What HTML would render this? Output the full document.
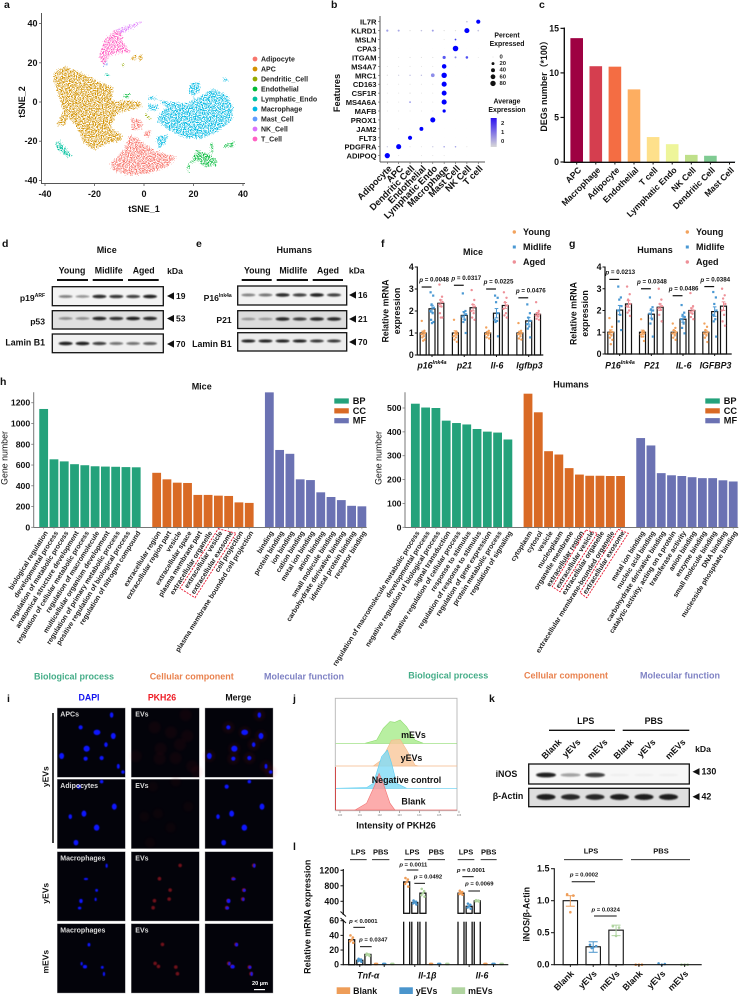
<!DOCTYPE html>
<html lang="en">
<head>
<meta charset="utf-8">
<title>Multi-panel figure: adipose tissue single-cell, senescence and extracellular vesicle analysis</title>
<style>
html,body{margin:0;padding:0;background:#fff;width:743px;height:996px;overflow:hidden}
svg{display:block;font-family:"Liberation Sans","Noto Sans CJK SC",sans-serif}
.letter{font-size:10.5px;font-weight:bold;fill:#111;dominant-baseline:central}
.title{font-size:9px;font-weight:bold;fill:#111;text-anchor:middle;dominant-baseline:central}
</style>
</head>
<body>
<svg id="figure" xmlns="http://www.w3.org/2000/svg" width="743" height="996" viewBox="0 0 743 996">
<defs>
<filter id="speckle" x="-8%" y="-8%" width="116%" height="116%" color-interpolation-filters="sRGB">
<feTurbulence type="fractalNoise" baseFrequency="0.85" numOctaves="2" seed="4" result="n"/>
<feDisplacementMap in="SourceGraphic" in2="n" scale="6" xChannelSelector="R" yChannelSelector="G" result="d"/>
<feColorMatrix in="n" type="matrix" values="0 0 0 0 0  0 0 0 0 0  0 0 0 0 0  0 0 0 7 -3.1" result="m"/>
<feComposite in="d" in2="m" operator="in"/>
</filter>
<filter id="blur1" x="-30%" y="-100%" width="160%" height="300%"><feGaussianBlur stdDeviation="0.7"/></filter>
<filter id="blur2" x="-50%" y="-50%" width="200%" height="200%"><feGaussianBlur stdDeviation="0.5"/></filter>
<filter id="blur3" x="-100%" y="-100%" width="300%" height="300%"><feGaussianBlur stdDeviation="1.4"/></filter>
<linearGradient id="exprGradient" x1="0" y1="1" x2="0" y2="0"><stop offset="0" stop-color="#d8d8d8"/><stop offset="1" stop-color="#2a10f0"/></linearGradient>
</defs>
<rect width="743" height="996" fill="#fff"/>

<text class="letter" x="4" y="5">a</text>
<text class="letter" x="331" y="5">b</text>
<text class="letter" x="539" y="5">c</text>
<text class="letter" x="2" y="244">d</text>
<text class="letter" x="196" y="244">e</text>
<text class="letter" x="381" y="244">f</text>
<text class="letter" x="569" y="244">g</text>
<text class="letter" x="0" y="382">h</text>
<text class="letter" x="7" y="699">i</text>
<text class="letter" x="293" y="699">j</text>
<text class="letter" x="489" y="699">k</text>
<text class="letter" x="293" y="847">l</text>

<text class="title" x="106.7" y="250">Mice</text>
<text class="title" x="294.3" y="250">Humans</text>
<text class="title" x="473" y="252">Mice</text>
<text class="title" x="655" y="250">Humans</text>
<text class="title" x="201.7" y="386.5">Mice</text>
<text class="title" x="571" y="384.5">Humans</text>

<g font-size="9" font-weight="bold" text-anchor="middle" dominant-baseline="central">
<text x="74" y="676.7" fill="#45ad88">Biological process</text>
<text x="191.7" y="676.7" fill="#e9824f">Cellular component</text>
<text x="304" y="676.7" fill="#7f82c4">Molecular function</text>
<text x="448.3" y="675.7" fill="#45ad88">Biological process</text>
<text x="566" y="675.7" fill="#e9824f">Cellular component</text>
<text x="680" y="675.7" fill="#7f82c4">Molecular function</text>
</g>

<g id="layer"></g>
</svg>

<script>
/* ---------- panel a data (tSNE coordinates of each cluster outline) ---------- */
const tsneCellTypes = ['Adipocyte','APC','Dendritic_Cell','Endothelial','Lymphatic_Endo','Macrophage','Mast_Cell','NK_Cell','T_Cell'];
const tsneColors = ['#F8766D','#D39200','#93AA00','#00BA38','#00C19F','#00B9E3','#619CFF','#DB72FB','#FF61C3'];
const tsneTicks = [-40,-20,0,20,40];
const tsneOutlines = [
 [[[-5.4,-17],[-1.6,-19.6],[3.8,-24.7],[13.2,-28.1],[9.2,-33.2],[1.1,-36.6],[-5.7,-37.4],[-12.4,-34.9],[-13.7,-31.5],[-8.3,-24.7]],
  [[-5,-8],[-.9,-9.4],[-.9,-13.6],[-5,-14.5]],[[1.1,-14.5],[3.1,-14.5],[1.8,-18.2],[-.3,-17]]],
 [[[-36,15.3],[-31.9,18.2],[-25.9,15.3],[-17.8,10.2],[-12.4,7.3],[-13.1,2.6],[-11.7,0],[-9,.9],[-1.6,0],[-.9,-2.6],[-6.3,-4.3],[-11,-6],[-13.7,-12.8],[-9,-17],[-9,-19.6],[-15.1,-21.3],[-20.5,-24.7],[-24.5,-20.4],[-27.2,-12.8],[-30.6,-7.7],[-31.9,-11.9],[-35.3,-11.9],[-33.3,-6.8],[-32.6,-4.3],[-36.6,11]],
  [[-5,23],[-3,24],[-3,22],[-5,21]],[[-1.8,24],[-.4,24],[-1,21],[-2,21]]],
 [[[-9.2,20],[-8,20],[-8.4,18],[-9,18]],[[1,-6],[3,-8.5],[2.5,-9.5],[.6,-7]]],
 [[[21.3,-24.7],[26,-26.7],[29.4,-29.8],[29.4,-32.3],[24.6,-33.2],[21.3,-29.8],[18.6,-31.5],[17.9,-36.6],[17.2,-33.2],[19.3,-29.8]],
  [[32,-22],[36.8,-20],[36,-23],[32.7,-23.3]],[[27,-21],[28,-21],[28,-26],[27,-26]],[[-8,4],[-5.6,4.4],[-6.4,2],[-8,2.4]]],
 [[[-36,-20.4],[-34.2,-19.9],[-29.2,-27.2],[-30.6,-28.4],[-35.3,-23.8]],[[-15.5,15],[-14,14],[-14.5,13],[-16,14]]],
 [[[5.8,.9],[11.9,0],[17.2,-.9],[22.6,2.6],[28,6.8],[33.4,3.4],[36.1,-2.6],[35.4,-9.4],[29.4,-15.3],[22.6,-18.7],[15.9,-17.9],[9.2,-13.6],[5.1,-9.4],[6.5,-6],[9.2,-2.6]],
  [[18.6,9.4],[22.6,10.2],[22.6,5.9],[19.9,2.6],[17.9,5.1]],[[1.8,-.9],[5.8,-1.7],[5.1,-4.3],[1.8,-4.3]],[[5.1,-17.9],[9.8,-16.2],[8.5,-21.3],[5.8,-23.8]],[[32,12],[34,12],[34,10.5],[32,10.5]],[[2,3],[5,2.4],[5,1],[2,1.6]]],
 [[[-16,19.6],[-14.6,21],[-15,19],[-16.4,18]]],
 [[[-11.7,36.9],[-6.3,39.1],[0,41.3],[-4.3,37.9],[-9,34.9]]],
 [[[-11.7,36.9],[-9,34.9],[-8.6,30.6],[-5.3,25.5],[-10.4,25],[-13.7,23.8],[-16.4,18.4],[-18,23],[-16.2,31.5]]]
];

/* ---------- panel b data ---------- */
const dotFeatures = ['IL7R','KLRD1','MSLN','CPA3','ITGAM','MS4A7','MRC1','CD163','CSF1R','MS4A6A','MAFB','PROX1','JAM2','FLT3','PDGFRA','ADIPOQ'];
const dotCellTypes = ['Adipocyte','APC','Dendritic Cell','Endothelial','Lymphatic Endo','Macrophage','Mast Cell','NK Cell','T cell'];
const dotPercent = [
 [0,0,0,0,0,0,0,5,45],[10,8,2,4,8,2,2,70,5],[0,0,0,0,0,1,6,0,0],[0,0,0,0,0,0,85,0,0],
 [0,1,2,2,2,25,8,15,1],[1,1,1,1,1,55,0,0,0],[2,2,3,3,35,80,0,0,0],[1,1,1,1,1,70,0,0,0],
 [1,1,2,1,1,65,0,0,0],[1,1,5,1,1,70,0,0,0],[1,1,1,1,1,25,0,0,0],[0,0,0,0,70,0,0,0,0],
 [0,1,0,40,0,0,0,0,0],[0,0,45,0,0,0,0,0,0],[2,70,1,1,2,4,4,1,0],[75,1,0,1,1,1,0,0,0]];
const dotExpression = [
 [0,0,0,0,0,0,0,.3,2.5],[.7,.6,0,.3,.7,0,0,2.5,.3],[0,0,0,0,0,0,1.8,0,0],[0,0,0,0,0,0,2.5,0,0],
 [0,0,0,0,0,1.5,.9,1.6,0],[0,0,0,0,0,2.5,0,0,0],[0,.2,.4,.4,.9,2.5,0,0,0],[0,0,0,0,0,2.5,0,0,0],
 [0,0,0,0,0,2.5,0,0,0],[0,0,.9,0,0,2.5,0,0,0],[0,0,0,0,0,2.5,0,0,0],[0,0,0,0,2.5,0,0,0,0],
 [0,0,0,2.5,0,0,0,0,0],[0,0,2.5,0,0,0,0,0,0],[.3,2.5,0,0,.3,.7,.7,0,0],[2.5,0,0,0,0,0,0,0,0]];
const dotSizeLegend = [0,20,40,60,80];
const dotColorTicks = [2,1,0];

/* ---------- panel c data ---------- */
const degCellTypes = ['APC','Macrophage','Adipocyte','Endothelial','T cell','Lymphatic Endo','NK Cell','Dendritic Cell','Mast Cell'];
const degValues = [13.9,10.75,10.7,8.15,2.8,2.0,0.8,0.7,0.02];
const degColors = ['#9E0142','#D53E4F','#F46D43','#FDAE61','#FEE08B','#EEF59A','#BFE08A','#7FCB92','#5E9FC0'];
const degTicks = [0,5,10,15];

/* ---------- panels d, e, k data (relative band densities) ---------- */
const blotLanesMice = {p19:[.55,.45,.95,.9,.85,1],p53:[.45,.45,.95,.9,1,.95],lamin:[1,1,.85,.6,.6,.7]};
const blotLanesHumans = {p16:[.55,.6,.95,.85,1,.85],p21:[.4,.4,.95,.85,.95,.95],lamin:[1,1,1,1,.9,.9]};
const blotLanesEvs = {inos:[1,.4,.85,.02,.02,.02],actin:[1,.95,.95,1,1,1]};
const ageGroups = ['Young','Midlife','Aged'];

/* ---------- panel f data ---------- */
const fGenes = ['p16<tspan dy="-2.5" font-size="5.5">Ink4a</tspan>','p21','Il-6','Igfbp3'];
const fMeans = [[1,2.1,2.35],[1,1.8,2.15],[1,1.9,2.25],[1,1.55,1.85]];
const fPoints = [
 [[1.55,1.1,1.05,1,.95,.85,.8,.7,.65],[2.85,2.7,2.3,2.15,2,1.9,1.6,1.5,1.45],[3.2,2.65,2.5,2.4,2.3,2.2,1.9,1.7,1.7]],
 [[1.6,1.05,1,.95,.85,.8,.7,.6],[2.8,2,1.95,1.85,1.75,1.6,1.5,1],[2.95,2.5,2.3,2.2,2,1.9,1.7,1.6]],
 [[1.25,1.1,1.05,1,.95,.9,.8,.75],[2.7,2.6,2.4,1.9,1.6,1.55,1.5,.85],[2.85,2.6,2.4,2.25,2.1,1.9,1.8,1.7]],
 [[1.45,1.1,1.05,1,.95,.85,.75,.7],[2.3,1.9,1.7,1.55,1.4,1.3,1.2,.8],[2.4,2,1.9,1.85,1.8,1.75,1.65,1.6]]];
const fPValues = ['= 0.0048','= 0.0317','= 0.0225','= 0.0476'];
const fBracketLevels = [3.09,3.17,3,2.6];

/* ---------- panel g data ---------- */
const gGenes = ['P16<tspan dy="-2.5" font-size="5.5">Ink4a</tspan>','P21','IL-6','IGFBP3'];
const gMeans = [[1,2.02,2.3],[1,1.83,2.15],[1,1.6,2],[1,1.95,2.2]];
const gPoints = [
 [[1.65,1.25,1.05,1,.95,.85,.75,.65,.45],[3.1,2.6,2.5,2.2,2,1.8,1.5,1.1],[3.1,2.75,2.5,2.3,2.2,2,1.9,1.75]],
 [[1.6,1.05,1,.95,.9,.8,.8,.6],[2.6,2.15,2.05,2,1.85,1.6,1.4,.8],[3,2.5,2.3,2.2,2.1,2.05,1.8,1.5]],
 [[1.4,1.2,1.1,1,.95,.85,.75,.65],[2.25,1.9,1.8,1.7,1.6,1.4,1.2,.95],[2.8,2.2,2.1,2,1.95,1.85,1.7,1.6]],
 [[1.4,1.25,1.1,1,.95,.85,.75,.55],[2.85,2.6,2.3,2,1.8,1.6,1.5,.8],[3,2.7,2.55,2.3,2,1.8,1.5,1.3]]];
const gPValues = ['= 0.0213','= 0.0348','= 0.0486','= 0.0384'];
const gBracketLevels = [3.43,3,2.68,3.1];
const qpcrTicks = [0,1,2,3,4];

/* ---------- panel h data ---------- */
const miceBP = [1140,655,635,608,598,588,585,583,580,578];
const miceCC = [525,462,430,427,312,312,305,302,240,235];
const miceMF = [1300,745,708,462,455,337,292,262,207,202];
const miceBPTerms = ['biological regulation','developmental process','regulation of metabolic process','anatomical structure development','regulation of cellular metabolic process','regulation of macromolecule','multicellular organism development','regulation of primary metabolic process','positive regulation of biological process','regulation of nitrogen compound'];
const miceCCTerms = ['extracellular region','extracellular region part','vesicle','extracellular space','plasma membrane part','extracellular organelle','extracellular vesicle','extracellular exosome','cell projection','plasma membrane bounded cell projection'];
const miceMFTerms = ['binding','protein binding','ion binding','cation binding','metal ion binding','anion binding','small molecule binding','carbohydrate derivative binding','identical protein binding','receptor binding'];
const miceTicks = [0,200,400,600,800,1000,1200];
const humanBP = [518,502,500,447,437,431,412,401,397,368];
const humanCC = [560,482,319,305,248,221,216,216,215,215];
const humanMF = [374,343,227,218,215,210,206,206,197,192];
const humanBPTerms = ['regulation of macromolecule metabolic process','developmental process','negative regulation of biological process','signal transduction','negative regulation of cellular process','response to stimulus','regulation of response to stimulus','regulation of gene expression','protein metabolic process','regulation of signaling'];
const humanCCTerms = ['cytoplasm','cytosol','vesicle','nucleoplasm','organelle membrane','extracellular region','extracellular vesicle','extracellular organelle','extracellular membrane-bounded organelle','extracellular exosome'];
const humanMFTerms = ['metal ion binding','nucleic acid binding','carbohydrate derivative binding','catalytic activity, acting on a protein','transferase activity','anion binding','enzyme binding','small molecule binding','DNA binding','nucleoside phosphate binding'];
const humanTicks = [0,100,200,300,400,500];
const goClasses = ['BP','CC','MF'];
const goColors = ['#24a27b','#d96a25','#6b72b3'];

/* ---------- panel j data: [log10 intensity, relative count] ---------- */
const flowSeries = ['mEVs','yEVs','Negative control','Blank'];
const flowHistograms = [
 [[1.26,0],[1.85,14],[2.18,64],[2.52,93],[2.77,90],[3.03,100],[3.36,71],[3.78,14],[4.2,0]],
 [[1.68,0],[2.1,26],[2.35,69],[2.6,111],[3.03,114],[3.36,69],[3.78,4],[3.95,0]],
 [[-.2,0],[1.34,3],[1.68,21],[2.1,136],[2.39,164],[2.6,107],[2.86,21],[3.36,0]],
 [[.76,0],[1.34,29],[1.76,107],[1.97,157],[2.18,114],[2.52,29],[2.77,0]]];
const flowColors = ['#a8ec8c','#f9c89c','#82dcf6','#fb9a9a'];
const flowStroke = ['#8fdc70','#f4b888','#5fcdf0','#f07070'];

/* ---------- panel l data ---------- */
const lGenes = ['Tnf-α','Il-1β','Il-6'];
const lMeans = [[34,6,14,1,1,1],[900,370,610,1,1,1],[610,270,410,1,1,1]];
const lPoints = [
 [[40,37,34,32,30],[8,7,6,5,4],[15,14,14,13,12],[1,1,1],[1,1,1],[1,1,1]],
 [[1000,960,900,850,780],[420,390,370,350,320],[720,660,610,560,520],[1,1,1],[1,1,1],[1,1,1]],
 [[670,640,610,590,570],[340,310,270,240,210],[430,420,410,400,395],[1,1,1],[1,1,1],[1,1,1]]];
const lConditions = ['Blank','yEVs','mEVs'];
const lColors = ['#ee9d58','#4a95cc','#b0d4a0'];
const lTicksLow = [0,20,40,60];
const lTicksHigh = [400,800,1200];

/* ---------- panel l right chart data ---------- */
const inosLabels = ['Blank','yEVs','mEVs','Blank','yEVs','mEVs'];
const inosMeans = [1,.28,.54,0,0,0];
const inosPoints = [[1.1,1.08,.82],[.31,.29,.27,.26],[.6,.58,.45],[0,0,0],[.02,.01,0],[0,0,0]];
const inosTicks = [0,.5,1,1.5];

/* ---------- panel i: nuclei observed per micrograph ---------- */
const iNucleiApc = [[163,21,5,8],[70,58,6,6],[119,73,10,8],[168,84,7,9],[146,110,5,7],[88,122,9,9],[13,144,7,9],[85,152,6,6],[133,150,6,6],[183,175,4,7],[197,192,5,5]];
const iNucleiAdipo = [[133,7,5,5],[65,22,6,6],[171,82,7,9],[39,112,5,7],[80,103,7,9],[118,145,8,9],[56,190,7,8]];
const iNucleiMacY = [[148,42,3,6],[86,82,6,3],[118,116,4,4],[71,148,5,6],[115,143,3,5],[67,169,5,4]];
const iNucleiMacM = [[95,63,4,5],[73,120,3,5],[83,129,6,5],[135,131,4,4],[140,151,3,6]];

/* ---------- drawing helpers ---------- */
const NS = 'http://www.w3.org/2000/svg';
const layer = document.getElementById('layer');
function mk(tag,parent,attrs){
  const el = document.createElementNS(NS,tag);
  for(const k in attrs) el.setAttribute(k,attrs[k]);
  parent.appendChild(el);
  return el;
}
function group(name){
  const el = mk('g',layer,{});
  
  
  return el;
}
function addText(p,name,x,y,str,size,o){
  o = o || {};
  const a = {x:x,y:y,'font-size':size,'font-weight':o.w||'bold','text-anchor':o.a||'middle',fill:o.c||'#111','dominant-baseline':'central'};
  if(o.i) a['font-style']='italic';
  if(o.r!==undefined) a.transform='rotate('+o.r+' '+x+' '+y+')';
  const el = mk('text',p,a);
  el.innerHTML = str;
  
  
  return el;
}
function addLine(p,name,x1,y1,x2,y2,c,w){
  const el = mk('line',p,{x1:x1,y1:y1,x2:x2,y2:y2,stroke:c||'#111','stroke-width':w||1});
  
  
  return el;
}
function addRect(p,name,x,y,w,h,fill,extra){
  const el = mk('rect',p,Object.assign({x:x,y:y,width:w,height:h,fill:fill},extra||{}));
  
  
  return el;
}
function addCircle(p,name,x,y,r,fill,extra){
  const el = mk('circle',p,Object.assign({cx:x,cy:y,r:r,fill:fill},extra||{}));
  
  
  return el;
}
function addEllipse(p,name,x,y,rx,ry,fill,extra){
  const el = mk('ellipse',p,Object.assign({cx:x,cy:y,rx:rx,ry:ry,fill:fill},extra||{}));
  
  
  return el;
}
function addPoly(p,name,pts,fill,extra){
  const el = mk('polygon',p,Object.assign({points:pts.map(q=>q[0].toFixed(1)+','+q[1].toFixed(1)).join(' '),fill:fill},extra||{}));
  
  
  return el;
}
function pText(p,name,x,y,str,size){
  return addText(p,name,x,y,'<tspan font-style="italic">p</tspan> '+str,size||6.2);
}
function triangle(p,name,x,y){
  return addPoly(p,name,[[x,y],[x+7,y-3.6],[x+7,y+3.6]],'#111');
}

/* ---------- panel a ---------- */
(function(){
  const g = group('tsne-plot');
  const X = v => 144 + 2.475*v, Y = v => 102 - 1.96*v;
  tsneOutlines.forEach((polys,i)=>{
    const cg = mk('g',g,{filter:'url(#speckle)'});
    
    
    polys.forEach(pl=>{
      addPoly(cg,'cluster-region',pl.map(q=>[X(q[0]),Y(q[1])]),tsneColors[i]);
    });
  });
  addLine(g,'tsne-y-axis',41.5,13,41.5,183.5,'#555',1);
  addLine(g,'tsne-x-axis',41,183.5,245,183.5,'#555',1);
  tsneTicks.forEach(t=>{
    addLine(g,'tsne-x-tick',X(t),183.5,X(t),186,'#555',.8);
    addText(g,'tsne-x-tick-label',X(t),194,String(t),9);
    addLine(g,'tsne-y-tick',39,Y(t),41.5,Y(t),'#555',.8);
    addText(g,'tsne-y-tick-label',37.5,Y(t),String(t),9,{a:'end'});
  });
  addText(g,'tsne-x-axis-title',144,209,'tSNE_1',9);
  addText(g,'tsne-y-axis-title',22,102,'tSNE_2',9,{r:-90});
  tsneCellTypes.forEach((c,i)=>{
    const y = 59 + i*10;
    addCircle(g,'tsne-legend-dot',255,y,2.4,tsneColors[i]);
    addText(g,'tsne-legend-label',261,y+1,c,7,{a:'start',c:'#222'});
  });
})();

/* ---------- panel b ---------- */
(function(){
  const g = group('dot-plot');
  const X = i => 387.3 + 11.37*i, Y = i => 21.7 + 8.93*i;
  const color = v => { const t=Math.min(1,v/2.5); return 'rgb('+Math.round(221*(1-t))+','+Math.round(221*(1-t))+','+Math.round(221+34*t)+')'; };
  const rad = p => .2 + Math.sqrt(p/80)*2.5;
  dotFeatures.forEach((f,r)=>{
    addText(g,'dot-plot-feature-label',376.5,Y(r)+.5,f,7.6,{a:'end'});
    addLine(g,'dot-plot-y-tick',378,Y(r),380,Y(r),'#555',.6);
    dotPercent[r].forEach((p,c)=>{
      addCircle(g,'expression-dot',X(c),Y(r),rad(p),p>0?color(dotExpression[r][c]):'#eeeeee');
    });
  });
  dotCellTypes.forEach((c,i)=>{
    addLine(g,'dot-plot-x-tick',X(i),162,X(i),164,'#555',.6);
    addText(g,'dot-plot-cell-label',X(i)+3,167,c,9.2,{a:'end',r:-45});
  });
  addLine(g,'dot-plot-y-axis',380,16,380,162,'#555',1);
  addLine(g,'dot-plot-x-axis',380,162,485,162,'#555',1);
  addText(g,'dot-plot-y-title',337,93,'Features',9.2,{r:-90});
  addText(g,'size-legend-title',507,36,'Percent',6.9);
  addText(g,'size-legend-title',507,44.5,'Expressed',6.9);
  dotSizeLegend.forEach((p,i)=>{
    const y = 57 + i*6.6;
    addCircle(g,'size-legend-dot',493,y,rad(p),'#111');
    addText(g,'size-legend-label',499.5,y+.5,String(p),5.9,{a:'start',c:'#222'});
  });
  addText(g,'color-legend-title',507,102,'Average',6.9);
  addText(g,'color-legend-title',507,110.5,'Expression',6.9);
  addRect(g,'expression-colorbar',490.7,118,6,29,'url(#exprGradient)');
  dotColorTicks.forEach(t=>{
    addText(g,'color-legend-label',501,142-9*t,String(t),5.9,{a:'start',c:'#222'});
  });
})();

/* ---------- panel c ---------- */
(function(){
  const g = group('deg-bar-chart');
  const Y = v => 162 - 8.91*v, X = i => 576.7 + 19.1*i;
  degValues.forEach((v,i)=>{
    addRect(g,'deg-bar',X(i)-6.3,Y(v),12.6,162-Y(v),degColors[i]);
    addText(g,'deg-cell-label',X(i)+3,168.5,degCellTypes[i],8.6,{a:'end',r:-45});
    addLine(g,'deg-x-tick',X(i),162,X(i),164.5,'#111',1);
  });
  addLine(g,'deg-y-axis',564.3,27.5,564.3,163,'#111',1.4);
  addLine(g,'deg-x-axis',563.6,162.3,735,162.3,'#111',1.4);
  degTicks.forEach(t=>{
    addLine(g,'deg-y-tick',560.5,Y(t),564,Y(t),'#111',1.2);
    addText(g,'deg-y-tick-label',559,Y(t),String(t),8.8,{a:'end'});
  });
  addText(g,'deg-y-title',544,84,'DEGs number（*100）',8.9,{r:-90});
})();

/* ---------- blots ---------- */
function blotBox(g,name,x,y,w,h,bg){
  addRect(g,name,x,y,w,h,bg,{stroke:'#111','stroke-width':1.3});
}
function blotBands(g,values,xFn,y,bw,bh){
  values.forEach((d,i)=>{
    addEllipse(g,'protein-band',xFn(i),y,bw/2,bh/2*(.6+.5*d),'#0a0a0a',{opacity:Math.max(.03,d*.92),filter:'url(#blur1)'});
  });
}
(function(){
  const g = group('western-blot-mice');
  const xs = [72,108.7,143.7], bars=[[57,88],[92.7,123],[128,158.7]];
  ageGroups.forEach((a,i)=>{
    addText(g,'age-group-label',xs[i],270.7,a,8.8);
    addLine(g,'age-group-bar',bars[i][0],280,bars[i][1],280,'#111',2);
  });
  addText(g,'kda-header',175,271,'kDa',8.6);
  const bx = i => (197+50.6*i)/3;
  blotBox(g,'blot-p19',52.3,286.7,111,19,'#f3f3f3');
  blotBands(g,blotLanesMice.p19,bx,296.5,14,3.2);
  blotBox(g,'blot-p53',52.3,310.7,111,18.3,'#e0e0e0');
  blotBands(g,blotLanesMice.p53,bx,318.5,14,3.2);
  blotBox(g,'blot-lamin-b1',52.3,334,111,18.7,'#f0f0f0');
  blotBands(g,blotLanesMice.lamin,bx,343.5,14,3.2);
  addText(g,'blot-label-p19',45,298,'p19<tspan dy="-2" font-size="5">ARF</tspan>',8.6,{a:'end'});
  addText(g,'blot-label-p53',45,321.7,'p53',8.6,{a:'end'});
  addText(g,'blot-label-lamin',45,342.7,'Lamin B1',8.8,{a:'end'});
  [[296,'19'],[318.5,'53'],[344,'70']].forEach(q=>{
    triangle(g,'band-arrow',167,q[0]);
    addText(g,'band-size-label',176,q[0],q[1],8.5,{a:'start'});
  });
})();
(function(){
  const g = group('western-blot-humans');
  const xs = [257.3,293.3,328], bars=[[241.7,271.7],[276.7,308],[312.7,343]];
  ageGroups.forEach((a,i)=>{
    addText(g,'age-group-label',xs[i],270.7,a,8.8);
    addLine(g,'age-group-bar',bars[i][0],280,bars[i][1],280,'#111',2);
  });
  addText(g,'kda-header',356.7,270.5,'kDa',8.6);
  const bx = i => (745+51.4*i)/3;
  blotBox(g,'blot-p16',237.7,286,109,19,'#f2f2f2');
  blotBands(g,blotLanesHumans.p16,bx,295,14,3.2);
  blotBox(g,'blot-p21',237.7,310.7,109,17.8,'#dcdcdc');
  blotBands(g,blotLanesHumans.p21,bx,319,14,3.2);
  blotBox(g,'blot-lamin-b1',237.7,332.7,109,18.3,'#ececec');
  blotBands(g,blotLanesHumans.lamin,bx,341,14,2.8);
  addText(g,'blot-label-p16',231.7,298,'P16<tspan dy="-2" font-size="5">Ink4a</tspan>',8.6,{a:'end'});
  addText(g,'blot-label-p21',231.7,320,'P21',8.6,{a:'end'});
  addText(g,'blot-label-lamin',231.7,344,'Lamin B1',8.8,{a:'end'});
  [[295,'16'],[319,'21'],[342,'70']].forEach(q=>{
    triangle(g,'band-arrow',349,q[0]);
    addText(g,'band-size-label',358,q[0],q[1],8.5,{a:'start'});
  });
})();

/* ---------- panels f and g ---------- */
const qpcrColors = ['#f2a35e','#4a98d3','#ee9098'];
const qpcrJitter = [-1.4,1.2,-.4,1.8,-1.8,.6,-.9,1.5,0];
function qpcrPanel(name,genes,means,points,pvals,levels,X,Y,axisX,axisEnd,labelX,legendDotX,legendTextX,titleCx,yCenter,pDx,pDy){
  const g = group(name);
  means.forEach((m,gi)=>{
    m.forEach((v,s)=>{
      const cx = X(gi,s);
      const pts = points[gi][s];
      const mean = pts.reduce((a,b)=>a+b,0)/pts.length;
      const sem = Math.sqrt(pts.reduce((a,b)=>a+(b-mean)*(b-mean),0)/pts.length/pts.length);
      addRect(g,'mean-bar',cx-3,Y(v),6,Y(0)-Y(v),'#fff',{stroke:'#111','stroke-width':1.2});
      addLine(g,'error-bar',cx,Y(v+sem),cx,Y(v-sem),qpcrColors[s],1);
      addLine(g,'error-cap',cx-1.8,Y(v+sem),cx+1.8,Y(v+sem),qpcrColors[s],1);
      addLine(g,'error-cap',cx-1.8,Y(v-sem),cx+1.8,Y(v-sem),qpcrColors[s],1);
      pts.forEach((p,k)=>{
        if(s===1){ addRect(g,'replicate-point',cx+qpcrJitter[k]-1.1,Y(p)-1.1,2.2,2.2,qpcrColors[s]); }
        else { addCircle(g,'replicate-point',cx+qpcrJitter[k],Y(p),1.2,qpcrColors[s]); }
      });
    });
    const ly = Y(levels[gi]);
    addLine(g,'significance-line',X(gi,0)-1.5,ly,X(gi,1)-.5,ly,'#111',1.2);
    pText(g,'p-value',(X(gi,0)+X(gi,1))/2+pDx,ly-pDy,pvals[gi]);
    addText(g,'gene-label',labelX(gi),365.7,genes[gi],8.8,{i:true});
    addLine(g,'x-tick',X(gi,1),Y(0),X(gi,1),Y(0)+2,'#111',1);
  });
  addLine(g,'y-axis',axisX,Y(4)-.5,axisX,Y(0)+.5,'#111',1.2);
  addLine(g,'x-axis',axisX,Y(0),axisEnd,Y(0),'#111',1.2);
  qpcrTicks.forEach(t=>{
    addLine(g,'y-tick',axisX-2.5,Y(t),axisX,Y(t),'#111',1);
    addText(g,'y-tick-label',axisX-3.5,Y(t),String(t),8.8,{a:'end'});
  });
  addText(g,'y-title-line-1',titleCx,yCenter,'Relative mRNA',8.8,{r:-90});
  addText(g,'y-title-line-2',titleCx+11.5,yCenter,'expression',8.8,{r:-90});
  ageGroups.forEach((a,i)=>{
    const y = 232 + i*15;
    if(i===1){ addRect(g,'legend-marker',legendDotX-1.5,y-1.5,3,3,qpcrColors[i]); }
    else { addCircle(g,'legend-marker',legendDotX,y,1.7,qpcrColors[i]); }
    addText(g,'legend-label',legendTextX,y,a,9,{a:'start'});
  });
}
qpcrPanel('qpcr-mice',fGenes,fMeans,fPoints,fPValues,fBracketLevels,
  (gi,s)=>370+(186+gi*96.7+(s-1)*26.5)/3, v=>355-22*v, 417.3, 543.3,
  gi=>370+(186+gi*97.5)/3, 514.3, 523, 385.7, 311, 6.5, 7);
qpcrPanel('qpcr-humans',gGenes,gMeans,gPoints,gPValues,gBracketLevels,
  (gi,s)=>370+(749+gi*95+(s-1)*26.5)/3, v=>354-21.75*v, 605, 731.7,
  gi=>370+(750+gi*95.5)/3, 687.3, 696, 573.5, 313.5, 5, 6.8);

/* ---------- panel h ---------- */
function goPanel(name,ox,starts,vals,terms,Y,axisX,axisEnd,ticks,titleX,legendX){
  const g = group(name);
  vals.forEach((series,c)=>{
    series.forEach((v,i)=>{
      const cx = ox + (starts[c]+i*30.85)/3;
      addRect(g,'go-bar-'+goClasses[c].toLowerCase(),cx-4.4,Y(v),8.8,527.3-Y(v),goColors[c]);
      addLine(g,'go-x-tick',cx,527.3,cx,529.3,'#888',.7);
      addText(g,'go-term-label',cx+3.2,532,terms[c][i],6.95,{a:'end',r:-58,c:'#1c1c1c'});
    });
  });
  addLine(g,'go-y-axis',axisX,392.3,axisX,527.8,'#777',1);
  addLine(g,'go-x-axis',axisX,527.5,axisEnd,527.5,'#777',1);
  ticks.forEach(t=>{
    addLine(g,'go-y-tick',axisX-2.5,Y(t),axisX,Y(t),'#777',.8);
    addText(g,'go-y-tick-label',axisX-3.5,Y(t),String(t),8.7,{a:'end'});
  });
  addText(g,'go-y-title',titleX,458,'Gene number',8.8,{w:'normal',r:-90,c:'#111'});
  goClasses.forEach((c,i)=>{
    const y = 401 + i*9.85;
    addRect(g,'go-legend-swatch',legendX,y-2.6,14.5,5.2,goColors[i]);
    addText(g,'go-legend-label',legendX+18.5,y,c,9.2,{a:'start'});
  });
}
goPanel('go-chart-mice',0,[131,470,808],[miceBP,miceCC,miceMF],[miceBPTerms,miceCCTerms,miceMFTerms],
  v=>527.3-.1038*v,33.7,366.7,miceTicks,4.5,334.3);
goPanel('go-chart-humans',370,[136,474,812],[humanBP,humanCC,humanMF],[humanBPTerms,humanCCTerms,humanMFTerms],
  v=>527.3-.2386*v,405,738.3,humanTicks,378.5,705.3);
(function(){
  const g = group('highlight-boxes');
  const dash = {stroke:'#e8102a','stroke-width':.9,'stroke-dasharray':'2 1.2','fill-opacity':0};
  addPoly(g,'highlight-extracellular-terms-mice',[[655/3,370+476/3],[708/3,370+490/3],[585/3,370+683/3],[540/3,370+655/3]],'none',dash);
  addPoly(g,'highlight-extracellular-vesicle-humans',[[370+648/3,370+480/3],[370+682/3,370+490/3],[370+570/3,370+665/3],[370+547/3,370+650/3]],'none',dash);
  addPoly(g,'highlight-extracellular-exosome-humans',[[370+745/3,370+478/3],[370+775/3,370+490/3],[370+650/3,370+683/3],[370+630/3,370+668/3]],'none',dash);
})();

/* ---------- panel i ---------- */
(function(){
  const g = group('fluorescence-micrographs');
  const colX = [57.3,131.3,205], rowY = [708,779.3,851.7,923.7];
  const nuclei = [iNucleiApc,iNucleiAdipo,iNucleiMacY,iNucleiMacM];
  const cellLabels = ['APCs','Adipocytes','Macrophages','Macrophages'];
  const heads = [['DAPI','#1414f0',89],['PKH26','#ee1c25',162],['Merge','#111',238.3]];
  heads.forEach(h=>{ addText(g,'channel-header',h[2],697.7,h[0],8.8,{c:h[1]}); });
  rowY.forEach((ry,r)=>{
    colX.forEach((cx,c)=>{
      addRect(g,'micrograph',cx,ry,68,69.3,'#03030a',{stroke:'#999','stroke-width':.4});
      nuclei[r].forEach(n=>{
        const nx = cx+n[0]/3, ny = ry+n[1]/3;
        if(c!==0 && (r>=2 || r===0)){
          const a = r>=2 ? .75 : .08;
          addEllipse(g,'ev-signal',nx-(r>=2?.5:0),ny+(r>=2?-.3:0),r>=2?1.8:6,r>=2?1.8:6,'#c81e28',{opacity:c===1?a*.75:a,filter:r>=2?'url(#blur2)':'url(#blur3)'});
        } else if(c===1){
          addEllipse(g,'ev-signal',nx,ny,5,5,'#5a0c10',{opacity:.1,filter:'url(#blur3)'});
        }
        if(c!==1){
          addEllipse(g,'nucleus',nx,ny,n[2]/3+.1,n[3]/3+.1,'#0d12ff',{filter:'url(#blur2)'});
        }
      });
    });
    addText(g,'cell-type-label',colX[0]+3,ry+7.2,cellLabels[r],7,{a:'start',c:'#dcdcdc'});
    addText(g,'ev-label',colX[1]+4,ry+7.2,'EVs',7,{a:'start',c:'#dcdcdc'});
  });
  addLine(g,'yevs-group-bar',53,713,53,843,'#111',1.6);
  addText(g,'row-label-yevs',45.7,776.7,'yEVs',8.5,{r:-90});
  addText(g,'row-label-yevs',45.7,893.3,'yEVs',8.5,{r:-90});
  addText(g,'row-label-mevs',45.7,961.7,'mEVs',8.5,{r:-90});
  addText(g,'scale-bar-label',260,984,'20 µm',5.6,{c:'#fff'});
  addLine(g,'scale-bar',254,989.6,265,989.6,'#fff',1.2);
})();

/* ---------- panel j ---------- */
(function(){
  const g = group('flow-histogram');
  const X = v => 340 + 19.83*v;
  const baselines = [743.3,766,788.3,810];
  const Y = (v,b) => b - v*.2333;
  addRect(g,'flow-plot-frame',335.3,698.3,121.7,112.4,'#fff',{stroke:'#b5b5b5','stroke-width':.9});
  flowHistograms.forEach((h,i)=>{
    const pts = h.map(q=>[X(q[0]),Y(q[1],baselines[i])]);
    addLine(g,'flow-baseline',335.8,baselines[i],457,baselines[i],flowStroke[i],.7);
    addPoly(g,'histogram-'+flowSeries[i].toLowerCase().replace(' ','-'),pts,flowColors[i],{'fill-opacity':.82,stroke:flowStroke[i],'stroke-width':.6});
  });
  addLine(g,'blank-left-edge',335.6,767,335.6,810,'#d83030',.8);
  addText(g,'flow-label-mevs',413.5,735,'mEVs',8.9);
  addText(g,'flow-label-yevs',411.5,758,'yEVs',8.9);
  addText(g,'flow-label-negative-control',406.5,780,'Negative control',8.9);
  addText(g,'flow-label-blank',413.5,801.7,'Blank',8.9);
  for(let d=0;d<=6;d++){
    addLine(g,'flow-x-tick',X(d),810.7,X(d),813,'#777',.6);
    addText(g,'flow-x-tick-label',X(d),815.5,'10'+d,2.6,{w:'normal',c:'#777'});
  }
  addText(g,'flow-x-title',396,825.7,'Intensity of PKH26',9);
})();

/* ---------- panel k ---------- */
(function(){
  const g = group('western-blot-inos');
  addText(g,'treatment-label',585.7,721,'LPS',8.9);
  addText(g,'treatment-label',653.7,721,'PBS',8.9);
  addLine(g,'lps-bar',549,730.3,615,730.3,'#111',1.3);
  addLine(g,'pbs-bar',622.7,730.3,689.3,730.3,'#111',1.3);
  const ends = [560,579,606,632,654,684];
  inosLabels.forEach((l,i)=>{
    addText(g,'lane-label',ends[i],740.5,l,8.8,{a:'end',r:-45});
  });
  addText(g,'kda-header',703,749,'kDa',8.6);
  const bx = i => 300+(738+73.5*i)/3;
  blotBox(g,'blot-inos',528.7,764,160.6,20,'#f7f7f7');
  blotBands(g,blotLanesEvs.inos,bx,775,20,4.4);
  blotBox(g,'blot-beta-actin',528.7,788.3,160.6,18.4,'#dedede');
  blotBands(g,blotLanesEvs.actin,bx,797,19,5.4);
  addText(g,'blot-label-inos',517.3,774,'iNOS',8.9,{a:'end'});
  addText(g,'blot-label-beta-actin',523.3,796,'β-Actin',8.9,{a:'end'});
  triangle(g,'band-arrow',692.5,771.7);
  addText(g,'band-size-label',701.5,771.7,'130',8.9,{a:'start'});
  triangle(g,'band-arrow',692.5,796.7);
  addText(g,'band-size-label',701.5,796.7,'42',8.9,{a:'start'});
})();

/* ---------- panel l, left chart ---------- */
(function(){
  const g = group('qpcr-inflammation-chart');
  const X = (gi,s) => 300 + ([155,320,483][gi] + s*24.4)/3;
  const breakLow = 921.7, breakHigh = 913.3;
  const Y = v => v <= 60 ? 964.7 - v*.7333 : 901.3 + (400-v)*.03875;
  const jit = [-1.2,1.2,0,-1.6,1.6];
  lMeans.forEach((m,gi)=>{
    m.forEach((v,s)=>{
      const cx = X(gi,s), col = lColors[s%3];
      if(v>60){
        addRect(g,'bar-segment-upper',cx-3,Y(v),6,breakHigh-Y(v),'#fff',{stroke:'#111','stroke-width':1.3});
        addLine(g,'bar-segment-lower-left',cx-3,breakLow,cx-3,964.7,'#111',1.3);
        addLine(g,'bar-segment-lower-right',cx+3,breakLow,cx+3,964.7,'#111',1.3);
      } else if(v>2){
        addRect(g,'bar',cx-3,Y(v),6,964.7-Y(v),'#fff',{stroke:'#111','stroke-width':1.3});
      }
      lPoints[gi][s].forEach((p,k)=>{
        if(s<3){ addCircle(g,'replicate-point',cx+jit[k],Y(p),1.3,col); }
        else { addCircle(g,'replicate-point',cx+jit[k]*.8,Y(p),1.3,col); }
      });
    });
    const lx = [[150,200,216,268],[313,360,383,435],[473,523,542,590]][gi];
    addText(g,'treatment-label',300+(lx[0]+lx[1])/6,852,'LPS',7.5);
    addText(g,'treatment-label',300+(lx[2]+lx[3])/6,852,'PBS',7.5);
    addLine(g,'lps-bar',300+lx[0]/3,859.7,300+lx[1]/3,859.7,'#111',.9);
    addLine(g,'pbs-bar',300+lx[2]/3,859.7,300+lx[3]/3,859.7,'#111',.9);
    addText(g,'gene-label',300+[205,382,546][gi]/3,975.7,lGenes[gi],8.8,{i:true});
    addLine(g,'x-tick',X(gi,1),964.7,X(gi,1),967,'#111',.9);
    addLine(g,'x-tick',X(gi,4),964.7,X(gi,4),967,'#111',.9);
  });
  addLine(g,'y-axis-upper',343.3,869,343.3,915,'#111',1.2);
  addLine(g,'y-axis-lower',343.3,919.5,343.3,965.2,'#111',1.2);
  addLine(g,'axis-break-mark',340.5,911.5,346,916.5,'#111',1);
  addLine(g,'axis-break-mark',340.5,918,346,923,'#111',1);
  addLine(g,'x-axis',343.3,964.7,508.3,964.7,'#111',1.2);
  lTicksLow.forEach(t=>{
    addLine(g,'y-tick',340.5,Y(t),343.3,Y(t),'#111',1);
    addText(g,'y-tick-label',339,Y(t),String(t),8.8,{a:'end'});
  });
  lTicksHigh.forEach(t=>{
    addLine(g,'y-tick',340.5,Y(t),343.3,Y(t),'#111',1);
    addText(g,'y-tick-label',339,Y(t),String(t),8.8,{a:'end'});
  });
  addText(g,'y-title',307.3,916.7,'Relative mRNA expression',9,{r:-90});
  const anns = [
    ['&lt; 0.0001',190,291,160,195,307],['= 0.0347',220,346,180,215,365],
    ['= 0.0011',340,122,320,355,135],['= 0.0492',384,158,343,375,175],
    ['= 0.0001',513,138,487,521,155],['= 0.0069',538,179,505,540,198]];
  anns.forEach(a=>{
    pText(g,'p-value',300+a[1]/3,825+a[2]/3,a[0],5.9);
    addLine(g,'significance-line',300+a[3]/3,825+a[5]/3,300+a[4]/3,825+a[5]/3,'#111',1);
  });
  lConditions.forEach((c,i)=>{
    const sx = 300+[110,298,455][i]/3;
    addRect(g,'legend-swatch',sx,987.3,13.5,6.7,lColors[i]);
    addText(g,'legend-label',sx+16.5,991,c,8.8,{a:'start'});
  });
})();

/* ---------- panel l, right chart ---------- */
(function(){
  const g = group('inos-quantification-chart');
  const X = i => 300 + (811 + i*68.6)/3;
  const Y = v => 964.7 - 64*v;
  const jit = [-3.2,3,0,-1.5];
  inosMeans.forEach((v,i)=>{
    const col = lColors[i%3];
    if(v>0){
      addRect(g,'inos-bar',X(i)-7.2,Y(v),14.4,964.7-Y(v),'#fff',{stroke:'#111','stroke-width':1.1});
      addLine(g,'error-bar',X(i),Y(v)-5,X(i),Y(v)+5.5,col,1);
      addLine(g,'error-cap',X(i)-4.5,Y(v)-5,X(i)+4.5,Y(v)-5,col,1);
      addLine(g,'error-cap',X(i)-4.5,Y(v)+5.5,X(i)+4.5,Y(v)+5.5,col,1);
    }
    inosPoints[i].forEach((p,k)=>{
      addCircle(g,'replicate-point',X(i)+jit[k],Y(p),1.3,col);
    });
    addText(g,'inos-x-label',X(i)+2,972,inosLabels[i],8.8,{a:'end',r:-45});
    addLine(g,'x-tick',X(i),964.7,X(i),967,'#111',.9);
  });
  addLine(g,'y-axis',554.3,868.2,554.3,965.2,'#111',1.1);
  addLine(g,'x-axis',554.3,964.7,701.7,964.7,'#111',1.1);
  inosTicks.forEach(t=>{
    addLine(g,'y-tick',551,Y(t),554.3,Y(t),'#111',1);
    addText(g,'y-tick-label',549.5,Y(t),t.toFixed(1),9,{a:'end'});
  });
  addText(g,'y-title',526.7,914.3,'iNOS/β-Actin',8.9,{r:-90});
  addText(g,'treatment-label',591,851,'LPS',7.5);
  addText(g,'treatment-label',661,851,'PBS',7.5);
  addLine(g,'lps-bar',564,859.7,622.7,859.7,'#111',.9);
  addLine(g,'pbs-bar',631,859.7,690,859.7,'#111',.9);
  pText(g,'p-value',584,875.7,'= 0.0002',5.9);
  addLine(g,'significance-line',571.7,881.7,595,881.7,'#111',1);
  pText(g,'p-value',605.7,910.7,'= 0.0324',5.9);
  addLine(g,'significance-line',594,916,616.7,916,'#111',1);
})();
</script>
</body>
</html>
